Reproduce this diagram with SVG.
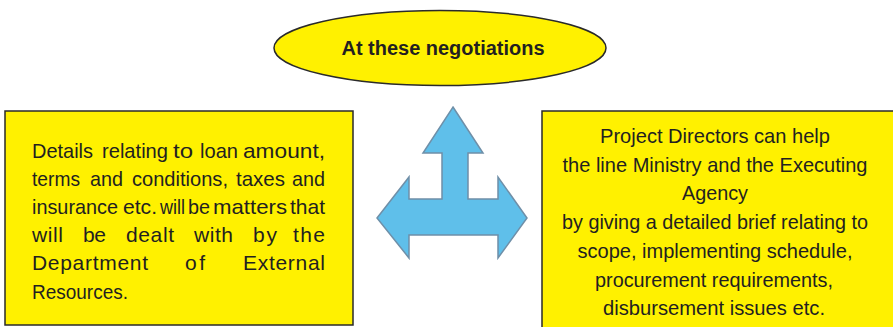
<svg xmlns="http://www.w3.org/2000/svg" width="893" height="327" viewBox="0 0 893 327">
<style>
.box{fill:#FFF100;stroke:#2a2a2a;stroke-width:1.5}
.t{font-family:"Liberation Sans",Arial,sans-serif;font-size:21px;fill:#231f20}
.b{font-weight:bold;font-size:20px}
.c{text-anchor:middle}
</style>
<rect width="893" height="327" fill="#ffffff"/>
<g id="title">
<ellipse cx="440" cy="48" rx="166" ry="37.5" class="box" stroke-width="1.2"/>
<text class="t b c" x="443" y="55" textLength="203" lengthAdjust="spacingAndGlyphs">At these negotiations</text>
</g>
<g id="left-box">
<rect x="5" y="111" width="348" height="214" class="box"/>
<g class="t" lengthAdjust="spacingAndGlyphs">
<text x="32" y="158" textLength="61" lengthAdjust="spacingAndGlyphs">Details</text>
<text x="102" y="158" textLength="66" lengthAdjust="spacingAndGlyphs">relating</text>
<text x="173" y="158" textLength="20" lengthAdjust="spacingAndGlyphs">to</text>
<text x="200" y="158" textLength="38" lengthAdjust="spacingAndGlyphs">loan</text>
<text x="243" y="158" textLength="82" lengthAdjust="spacingAndGlyphs">amount,</text>
<text x="32" y="186" textLength="48" lengthAdjust="spacingAndGlyphs">terms</text>
<text x="90" y="186" textLength="33" lengthAdjust="spacingAndGlyphs">and</text>
<text x="132" y="186" textLength="96" lengthAdjust="spacingAndGlyphs">conditions,</text>
<text x="236" y="186" textLength="49" lengthAdjust="spacingAndGlyphs">taxes</text>
<text x="292" y="186" textLength="33" lengthAdjust="spacingAndGlyphs">and</text>
<text x="32" y="214" textLength="86" lengthAdjust="spacingAndGlyphs">insurance</text>
<text x="123" y="214" textLength="34" lengthAdjust="spacingAndGlyphs">etc.</text>
<text x="160" y="214" textLength="25" lengthAdjust="spacingAndGlyphs">will</text>
<text x="188" y="214" textLength="22" lengthAdjust="spacingAndGlyphs">be</text>
<text x="213" y="214" textLength="74" lengthAdjust="spacingAndGlyphs">matters</text>
<text x="290" y="214" textLength="35" lengthAdjust="spacingAndGlyphs">that</text>
<text x="32" y="242" textLength="31" lengthAdjust="spacing">will</text>
<text x="83" y="242" textLength="23" lengthAdjust="spacing">be</text>
<text x="126" y="242" textLength="48" lengthAdjust="spacing">dealt</text>
<text x="194" y="242" textLength="39" lengthAdjust="spacing">with</text>
<text x="253" y="242" textLength="24" lengthAdjust="spacing">by</text>
<text x="293" y="242" textLength="32" lengthAdjust="spacing">the</text>
<text x="32" y="270" textLength="116" lengthAdjust="spacing">Department</text>
<text x="185" y="270" textLength="20" lengthAdjust="spacing">of</text>
<text x="243" y="270" textLength="82" lengthAdjust="spacing">External</text>
<text x="32" y="299" textLength="96" lengthAdjust="spacingAndGlyphs">Resources.</text>
</g>
</g>
<g id="arrow">
<polygon points="453,107 483,153 468,153 468,199 498,199 498,177 527,218 498,258 498,235 409,235 409,258 377,218 409,177 409,199 442,199 442,153 423,153" fill="#5fbfea" stroke="#6f8fa8" stroke-width="1.5" stroke-linejoin="miter"/>
</g>
<g id="right-box">
<rect x="542" y="111" width="360" height="230" class="box"/>
<g class="t c">
<text x="715" y="143" textLength="230" lengthAdjust="spacingAndGlyphs">Project Directors can help</text>
<text x="715" y="172" textLength="305" lengthAdjust="spacingAndGlyphs">the line Ministry and the Executing</text>
<text x="715" y="200" textLength="66" lengthAdjust="spacingAndGlyphs">Agency</text>
<text x="715" y="229" textLength="306" lengthAdjust="spacingAndGlyphs">by giving a detailed brief relating to</text>
<text x="715" y="258" textLength="275" lengthAdjust="spacingAndGlyphs">scope, implementing schedule,</text>
<text x="714" y="287" textLength="238" lengthAdjust="spacingAndGlyphs">procurement requirements,</text>
<text x="714" y="315" textLength="222" lengthAdjust="spacingAndGlyphs">disbursement issues etc.</text>
</g>
</g>
</svg>
